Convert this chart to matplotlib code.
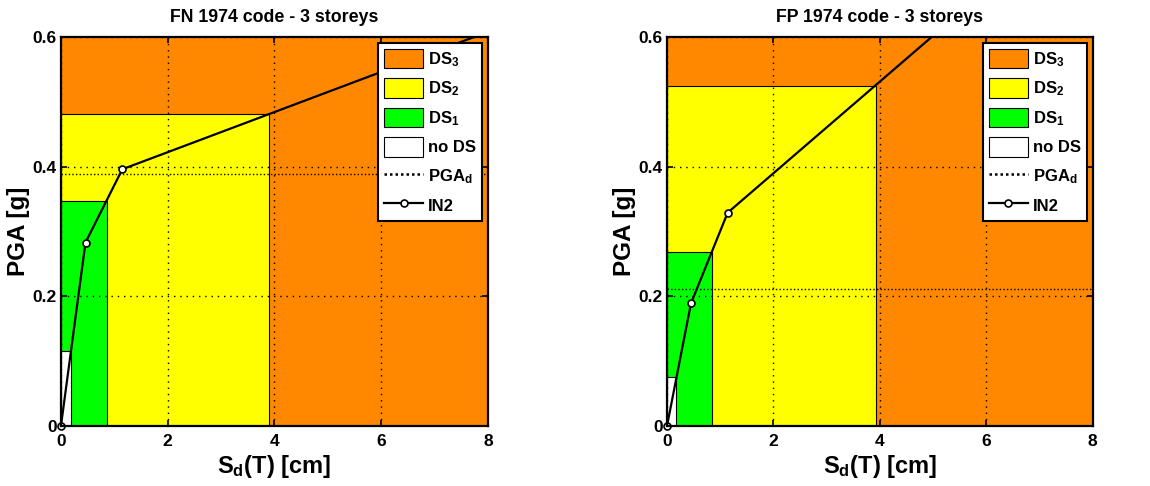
import matplotlib.pyplot as plt
from matplotlib.patches import Rectangle, Patch
from matplotlib.lines import Line2D

plt.rcParams['font.family'] = ['Liberation Sans', 'DejaVu Sans']
plt.rcParams['font.weight'] = 'bold'
plt.rcParams['mathtext.fontset'] = 'custom'
plt.rcParams['mathtext.rm'] = 'Liberation Sans:bold'
plt.rcParams['mathtext.bf'] = 'Liberation Sans:bold'
plt.rcParams['mathtext.it'] = 'Liberation Sans:bold'
plt.rcParams['mathtext.default'] = 'bf'

# --- data ---
titles = ['FN 1974 code - 3 storeys', 'FP 1974 code - 3 storeys']

# right edge (Sd, cm) and top (PGA, g) of the noDS, DS1, DS2 regions
ds_x_fn = [0.19, 0.86, 3.90]
ds_y_fn = [0.115, 0.347, 0.481]
ds_x_fp = [0.175, 0.84, 3.92]
ds_y_fp = [0.076, 0.268, 0.525]

pgad_fn = 0.389
pgad_fp = 0.211

# IN2 curves (last point only sets the direction of the final branch)
in2_x_fn = [0.0, 0.46, 1.15, 8.0]
in2_y_fn = [0.0, 0.283, 0.396, 0.608]
in2_x_fp = [0.0, 0.45, 1.14, 8.0]
in2_y_fp = [0.0, 0.189, 0.329, 0.814]

xmax, ymax = 8, 0.6
ds_colors = ['white', '#00FF00', '#FFFF00']
ds3_color = '#FF8800'
ds_names = ['no DS', 'DS$_1$', 'DS$_2$']

fig = plt.figure(figsize=(11.5, 4.86), dpi=100)
positions = [[0.053, 0.1235, 0.3713, 0.8004], [0.580, 0.1235, 0.3702, 0.8004]]

panels = [
    (ds_x_fn, ds_y_fn, pgad_fn, in2_x_fn, in2_y_fn),
    (ds_x_fp, ds_y_fp, pgad_fp, in2_x_fp, in2_y_fp),
]

for pos, title, (dx, dy, pgad, ix, iy) in zip(positions, titles, panels):
    ax = fig.add_axes(pos)
    # DS3 covers the whole domain, then smaller regions on top
    ax.add_patch(Rectangle((0, 0), xmax, ymax, facecolor=ds3_color,
                           edgecolor='none', zorder=0.5))
    for k in [2, 1, 0]:
        ax.add_patch(Rectangle((0, 0), dx[k], dy[k], facecolor=ds_colors[k],
                               edgecolor='black', linewidth=0.8, zorder=1))

    ax.axhline(pgad, color='black', linestyle=(0, (1, 1.6)), linewidth=1.0, zorder=3)
    ax.plot(ix, iy, color='black', linewidth=1.6, zorder=4, clip_on=True)
    ax.plot(ix[:3], iy[:3], linestyle='none', marker='o', markersize=5,
            markerfacecolor='white', markeredgecolor='black',
            markeredgewidth=1.2, zorder=5, clip_on=False)

    ax.set_xlim(0, xmax)
    ax.set_ylim(0, ymax)
    ax.set_xticks([0, 2, 4, 6, 8])
    ax.set_yticks([0, 0.2, 0.4, 0.6])
    ax.set_yticklabels(['0', '0.2', '0.4', '0.6'])
    ax.tick_params(direction='in', length=4, width=1.2, labelsize=12.5,
                   top=True, right=True, pad=3)
    ax.tick_params(axis='x', pad=6)
    ax.set_axisbelow(False)
    ax.grid(True, color='black', linestyle=(0, (1, 3.5)), linewidth=1.0)
    for s in ax.spines.values():
        s.set_linewidth(1.6)
        s.set_zorder(6)

    ax.set_title(title, fontsize=12.8, fontweight='bold', pad=11)
    ax.set_xlabel('S$_d$(T) [cm]', fontsize=17, fontweight='bold', labelpad=3)
    ax.set_ylabel('PGA [g]', fontsize=17.5, fontweight='bold', labelpad=2)

    handles = [
        Patch(facecolor=ds3_color, edgecolor='black', linewidth=0.8, label='DS$_3$'),
        Patch(facecolor=ds_colors[2], edgecolor='black', linewidth=0.8, label=ds_names[2]),
        Patch(facecolor=ds_colors[1], edgecolor='black', linewidth=0.8, label=ds_names[1]),
        Patch(facecolor=ds_colors[0], edgecolor='black', linewidth=0.8, label=ds_names[0]),
        Line2D([], [], color='black', linestyle=(0, (1, 1.2)), linewidth=1.8, label='PGA$_d$'),
        Line2D([], [], color='black', linewidth=1.6, marker='o', markersize=5,
               markerfacecolor='white', markeredgewidth=1.2, label='IN2'),
    ]
    leg = ax.legend(handles=handles, loc='upper right', fontsize=12,
                    fancybox=False, framealpha=1, edgecolor='black',
                    handlelength=2.35, handleheight=1.45, handletextpad=0.3,
                    labelspacing=0.56, borderpad=0.35, borderaxespad=0.35)
    leg.get_frame().set_linewidth(1.5)
    leg.set_zorder(7)

fig.savefig('out.png', dpi=100)
